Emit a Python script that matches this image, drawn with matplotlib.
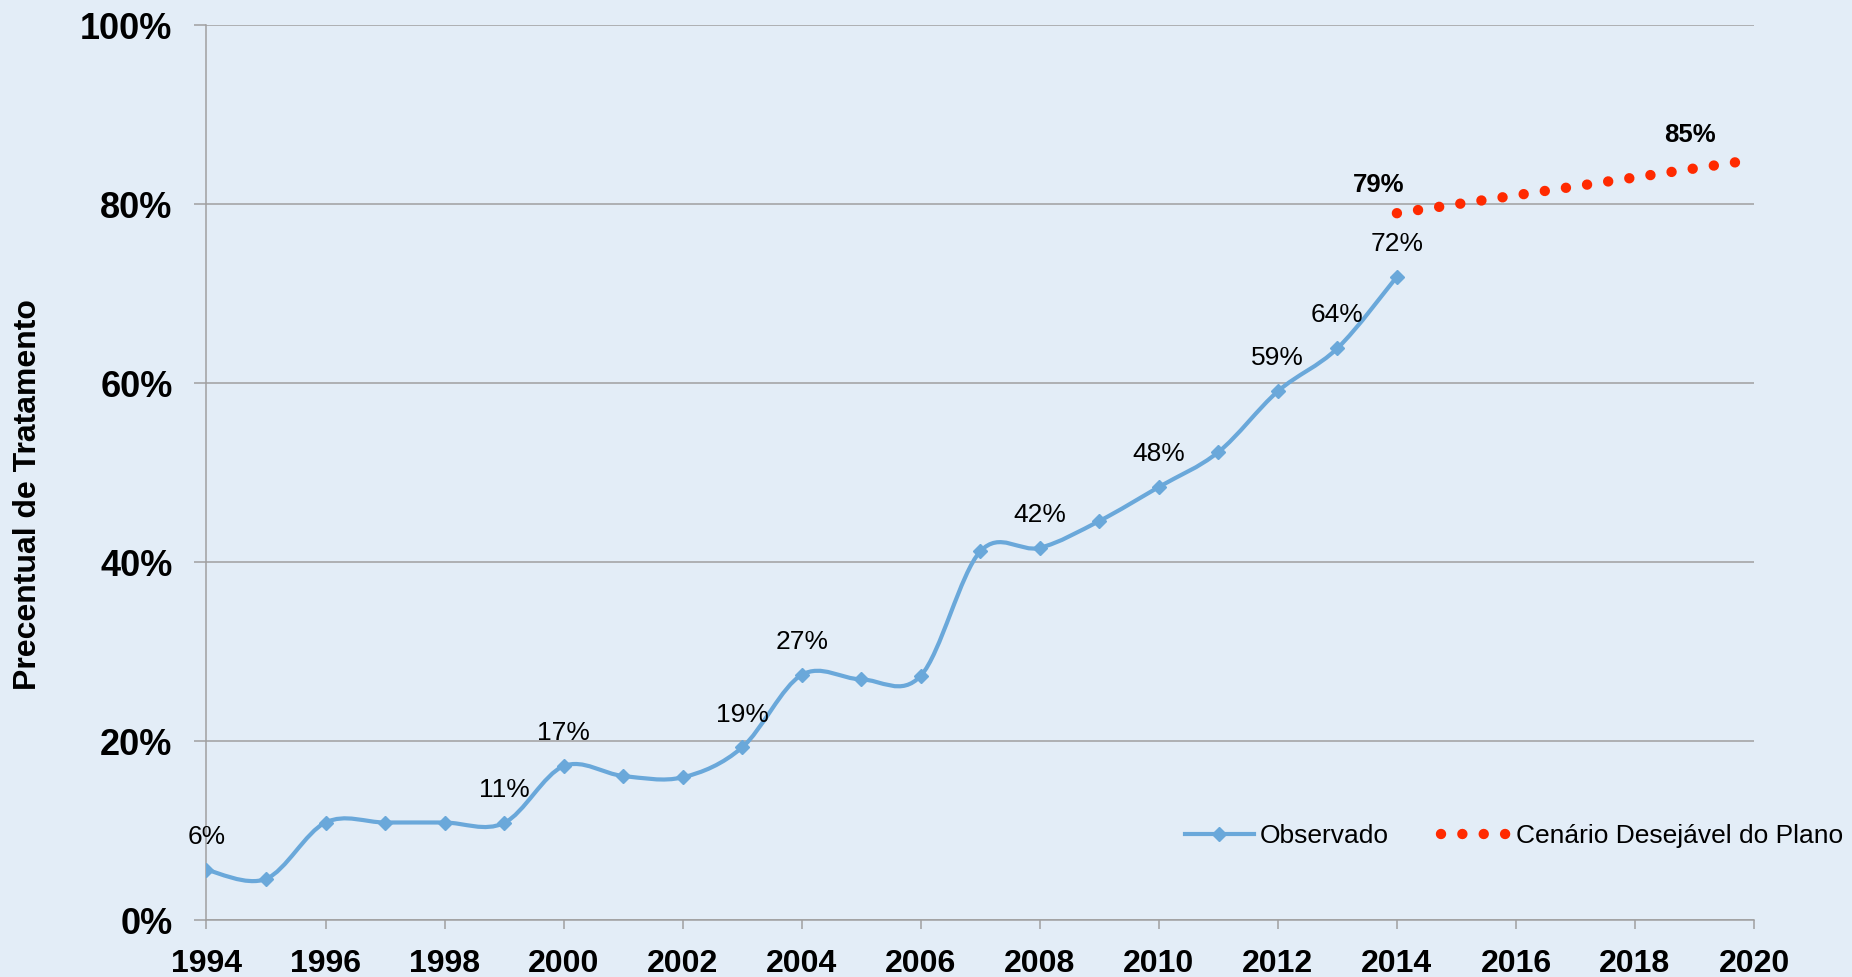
import numpy as np
import matplotlib
matplotlib.use("Agg")
import matplotlib.pyplot as plt
from matplotlib.path import Path
from matplotlib.patches import PathPatch
from matplotlib.lines import Line2D
from matplotlib.ticker import PercentFormatter

plt.rcParams['font.family'] = ['Liberation Sans', 'DejaVu Sans']

# observed treatment percentage
obs_years = [1994, 1995, 1996, 1997, 1998, 1999, 2000, 2001, 2002, 2003, 2004,
             2005, 2006, 2007, 2008, 2009, 2010, 2011, 2012, 2013, 2014]
obs_values = [5.6, 4.6, 10.9, 10.9, 10.9, 10.85, 17.2, 16.1, 15.95, 19.3, 27.4,
              26.9, 27.3, 41.2, 41.6, 44.6, 48.4, 52.3, 59.1, 63.9, 71.9]
# labelled points (year -> text)
obs_labels = {1994: '6%', 1999: '11%', 2000: '17%', 2003: '19%', 2004: '27%',
              2008: '42%', 2010: '48%', 2012: '59%', 2013: '64%', 2014: '72%'}

# desired scenario of the plan
plan_years = [2014, 2015, 2016, 2017, 2018, 2019, 2020]
plan_values = [79, 80, 81, 82, 83, 84, 85]

x_ticks = list(range(1994, 2021, 2))
y_ticks = [0, 20, 40, 60, 80, 100]

bg = '#E3EDF7'
blue = '#6AA8DA'
red = '#FF2A00'
gray = '#A0A0A0'

fig = plt.figure(figsize=(18.52, 9.77), dpi=100, facecolor=bg)
ax = fig.add_axes([0.1115, 0.0583, 0.8356, 0.9158])
ax.set_facecolor(bg)


def smooth_path(xs, ys):
    # catmull-rom style bezier, like excel's smoothed line
    pts = np.column_stack([xs, ys]).astype(float)
    n = len(pts)
    verts = [pts[0]]
    codes = [Path.MOVETO]
    for i in range(n - 1):
        p0 = pts[max(i - 1, 0)]
        p1 = pts[i]
        p2 = pts[i + 1]
        p3 = pts[min(i + 2, n - 1)]
        c1 = p1 + (p2 - p0) / 6.0
        c2 = p2 - (p3 - p1) / 6.0
        verts += [c1, c2, p2]
        codes += [Path.CURVE4] * 3
    return Path(verts, codes)


patch = PathPatch(smooth_path(obs_years, obs_values), fill=False, edgecolor=blue,
                  lw=3.0, transform=ax.transData, zorder=3, capstyle='round')
ax.add_patch(patch)
ax.plot(obs_years, obs_values, ls='none', marker='D', ms=6.8, color=blue, zorder=4)

dot_style = (0, (0.001, 2.05))
ax.plot(plan_years, plan_values, color=red, lw=7.5, ls=dot_style,
        dash_capstyle='round', zorder=4)

for yr, txt in obs_labels.items():
    v = obs_values[obs_years.index(yr)]
    ax.annotate(txt, (yr, v), xytext=(0, 18.6), textcoords='offset points',
                ha='center', va='baseline', fontsize=19, zorder=5)

ax.annotate('79%', (plan_years[0], plan_values[0]), xytext=(-13, 15.2),
            textcoords='offset points', ha='center', va='baseline',
            fontsize=18.5, fontweight='bold')
ax.annotate('85%', (plan_years[-1], plan_values[-1]), xytext=(-46, 12.5),
            textcoords='offset points', ha='center', va='baseline',
            fontsize=18.5, fontweight='bold')

ax.set_xlim(1994, 2020)
ax.set_ylim(0, 100)
ax.set_xticks(x_ticks)
ax.set_yticks(y_ticks)
ax.yaxis.set_major_formatter(PercentFormatter(100, decimals=0))
ax.yaxis.grid(True, color=gray, lw=1.1)
ax.set_axisbelow(True)

for s in ['top', 'right']:
    ax.spines[s].set_visible(False)
for s in ['left', 'bottom']:
    ax.spines[s].set_color(gray)
    ax.spines[s].set_linewidth(1.1)

ax.tick_params(axis='x', length=6.5, width=1.1, color=gray, pad=14,
               labelsize=23)
ax.tick_params(axis='y', length=8.4, width=1.1, color=gray, pad=16,
               labelsize=26)
for lbl in ax.get_xticklabels() + ax.get_yticklabels():
    lbl.set_fontweight('bold')

fig.text(28 / 1852, 1 - 495 / 977, 'Precentual de Tratamento', rotation=90,
         ha='center', va='center', fontsize=23, fontweight='bold')

handles = [Line2D([], [], color=blue, lw=3.0, marker='D', ms=6.8),
           Line2D([], [], color=red, lw=7.5, ls=dot_style, dash_capstyle='round')]
fig.legend(handles, ['Observado', 'Cenário Desejável do Plano'], ncol=2,
           loc='center left', bbox_to_anchor=(1185 / 1852, 1 - 836 / 977),
           frameon=False, fontsize=19, handlelength=2.61, handletextpad=0.22,
           columnspacing=1.99, borderpad=0, borderaxespad=0)

fig.savefig('out.png', dpi=100, facecolor=bg)
